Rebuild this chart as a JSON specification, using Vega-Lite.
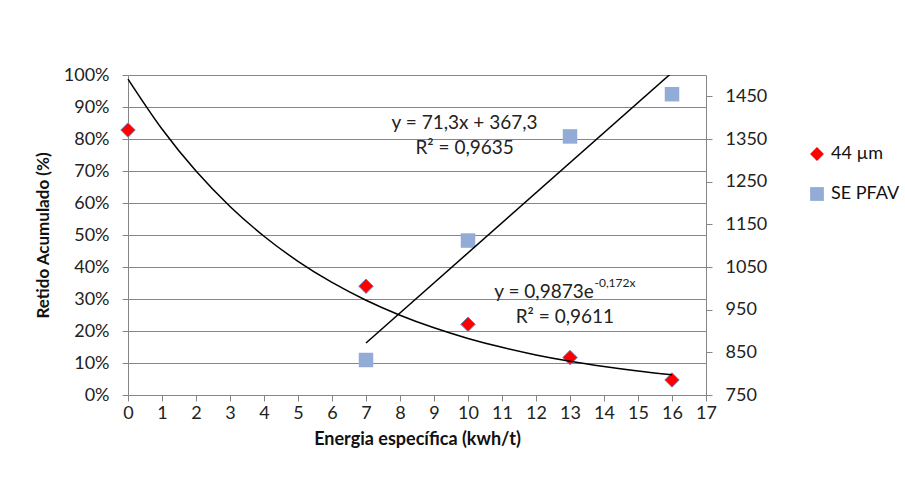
{
  "$schema": "https://vega.github.io/schema/vega-lite/v6.json",
  "width": 578,
  "height": 320,
  "autosize": {"type": "none"},
  "padding": {"left": 128, "top": 75, "right": 199, "bottom": 86},
  "background": "white",
  "config": {
    "font": "Lato",
    "view": {"stroke": null},
    "axis": {
      "labelFont": "Lato",
      "labelFontSize": 18,
      "labelColor": "#222222",
      "titleFont": "Lato",
      "titleFontSize": 17,
      "titleFontWeight": "bold",
      "titleColor": "#111111",
      "domainColor": "#868686",
      "tickColor": "#868686",
      "gridColor": "#868686",
      "tickSize": 6,
      "domainWidth": 1,
      "tickWidth": 1,
      "gridWidth": 1
    },
    "legend": {
      "orient": "none",
      "legendX": 680,
      "legendY": 70,
      "padding": 0,
      "labelFont": "Lato",
      "labelFontSize": 18,
      "labelColor": "#111111",
      "labelOffset": 5,
      "symbolSize": 190,
      "symbolStrokeWidth": 0,
      "rowPadding": 22,
      "title": null
    },
    "text": {"font": "Lato", "fontSize": 19, "color": "#222222"}
  },
  "datasets": {
    "pct": [
      {"energia": 0, "retido": 0.828, "serie": "44 µm"},
      {"energia": 7, "retido": 0.34, "serie": "44 µm"},
      {"energia": 10, "retido": 0.221, "serie": "44 µm"},
      {"energia": 13, "retido": 0.117, "serie": "44 µm"},
      {"energia": 16, "retido": 0.047, "serie": "44 µm"}
    ],
    "se": [
      {"energia": 7, "se": 832, "serie": "SE PFAV"},
      {"energia": 10, "se": 1112, "serie": "SE PFAV"},
      {"energia": 13, "se": 1356, "serie": "SE PFAV"},
      {"energia": 16, "se": 1455, "serie": "SE PFAV"}
    ],
    "tendencia": [
      {"energia": 0, "retido": 0.9873},
      {"energia": 1, "retido": 0.8313},
      {"energia": 2, "retido": 0.6999},
      {"energia": 3, "retido": 0.5893},
      {"energia": 4, "retido": 0.4962},
      {"energia": 5, "retido": 0.4178},
      {"energia": 6, "retido": 0.3518},
      {"energia": 7, "retido": 0.2962},
      {"energia": 8, "retido": 0.2494},
      {"energia": 9, "retido": 0.21},
      {"energia": 10, "retido": 0.1768},
      {"energia": 11, "retido": 0.1489},
      {"energia": 12, "retido": 0.1253},
      {"energia": 13, "retido": 0.1055},
      {"energia": 14, "retido": 0.0889},
      {"energia": 15, "retido": 0.0748},
      {"energia": 16, "retido": 0.063}
    ],
    "anotacoes": [
      {"energia": 9.9, "retido": 0.85, "texto": "y = 71,3x + 367,3", "grupo": "centro"},
      {"energia": 9.9, "retido": 0.772, "texto": "R² = 0,9635", "grupo": "centro"},
      {"energia": 13.7, "retido": 0.322, "texto": "y = 0,9873e", "grupo": "direita"},
      {"energia": 13.72, "retido": 0.35, "texto": "-0,172x", "grupo": "sobrescrito"},
      {"energia": 12.85, "retido": 0.244, "texto": "R² = 0,9611", "grupo": "centro"}
    ]
  },
  "encoding": {
    "x": {
      "field": "energia",
      "type": "quantitative",
      "scale": {"domain": [0, 17], "nice": false, "zero": false},
      "axis": {
        "title": "Energia específica  (kwh/t)",
        "titleFontSize": 18,
        "values": [0, 1, 2, 3, 4, 5, 6, 7, 8, 9, 10, 11, 12, 13, 14, 15, 16, 17],
        "grid": false,
        "labelPadding": 3,
        "titlePadding": 8,
        "labelFlush": false
      }
    }
  },
  "layer": [
    {
      "encoding": {
        "y": {
          "field": "retido",
          "type": "quantitative",
          "scale": {"domain": [0, 1], "nice": false},
          "axis": {
            "title": "Retido Acumulado  (%)",
            "orient": "left",
            "values": [0, 0.1, 0.2, 0.3, 0.4, 0.5, 0.6, 0.7, 0.8, 0.9, 1],
            "format": ".0%",
            "grid": true,
            "labelPadding": 13,
            "titlePadding": 11
          }
        }
      },
      "layer": [
        {
          "data": {"name": "pct"},
          "mark": {"type": "point", "filled": true, "opacity": 1, "size": 210, "stroke": "#6A86C4", "strokeWidth": 1},
          "encoding": {
            "color": {"field": "serie", "type": "nominal", "scale": {"domain": ["44 µm", "SE PFAV"], "range": ["#FF0000", "#93ABD7"]}},
            "shape": {"field": "serie", "type": "nominal", "scale": {"domain": ["44 µm", "SE PFAV"], "range": ["diamond", "square"]}}
          }
        },
        {
          "data": {"name": "tendencia"},
          "mark": {"type": "line", "color": "#000000", "strokeWidth": 1.5, "interpolate": "monotone"},
          "encoding": {}
        },
        {
          "data": {"name": "anotacoes"},
          "transform": [{"filter": "datum.grupo === 'centro'"}],
          "mark": {"type": "text", "align": "center", "baseline": "middle"},
          "encoding": {"text": {"field": "texto"}}
        },
        {
          "data": {"name": "anotacoes"},
          "transform": [{"filter": "datum.grupo === 'direita'"}],
          "mark": {"type": "text", "align": "right", "baseline": "middle"},
          "encoding": {"text": {"field": "texto"}}
        },
        {
          "data": {"name": "anotacoes"},
          "transform": [{"filter": "datum.grupo === 'sobrescrito'"}],
          "mark": {"type": "text", "align": "left", "baseline": "middle", "fontSize": 12},
          "encoding": {"text": {"field": "texto"}}
        }
      ]
    },
    {
      "encoding": {
        "y": {
          "field": "se",
          "type": "quantitative",
          "scale": {"domain": [750, 1500], "nice": false, "zero": false},
          "axis": {
            "title": null,
            "orient": "right",
            "values": [750, 850, 950, 1050, 1150, 1250, 1350, 1450],
            "format": "d",
            "grid": false,
            "labelPadding": 13
          }
        }
      },
      "layer": [
        {
          "data": {"name": "se"},
          "mark": {"type": "point", "filled": true, "opacity": 1, "size": 210},
          "encoding": {
            "color": {"field": "serie", "type": "nominal", "scale": {"domain": ["44 µm", "SE PFAV"], "range": ["#FF0000", "#93ABD7"]}},
            "shape": {"field": "serie", "type": "nominal", "scale": {"domain": ["44 µm", "SE PFAV"], "range": ["diamond", "square"]}}
          }
        },
        {
          "data": {"name": "se"},
          "transform": [{"regression": "se", "on": "energia", "method": "linear", "extent": [7, 16]}],
          "mark": {"type": "line", "color": "#000000", "strokeWidth": 1.5, "clip": true},
          "encoding": {}
        }
      ]
    }
  ],
  "resolve": {"scale": {"y": "independent"}}
}
